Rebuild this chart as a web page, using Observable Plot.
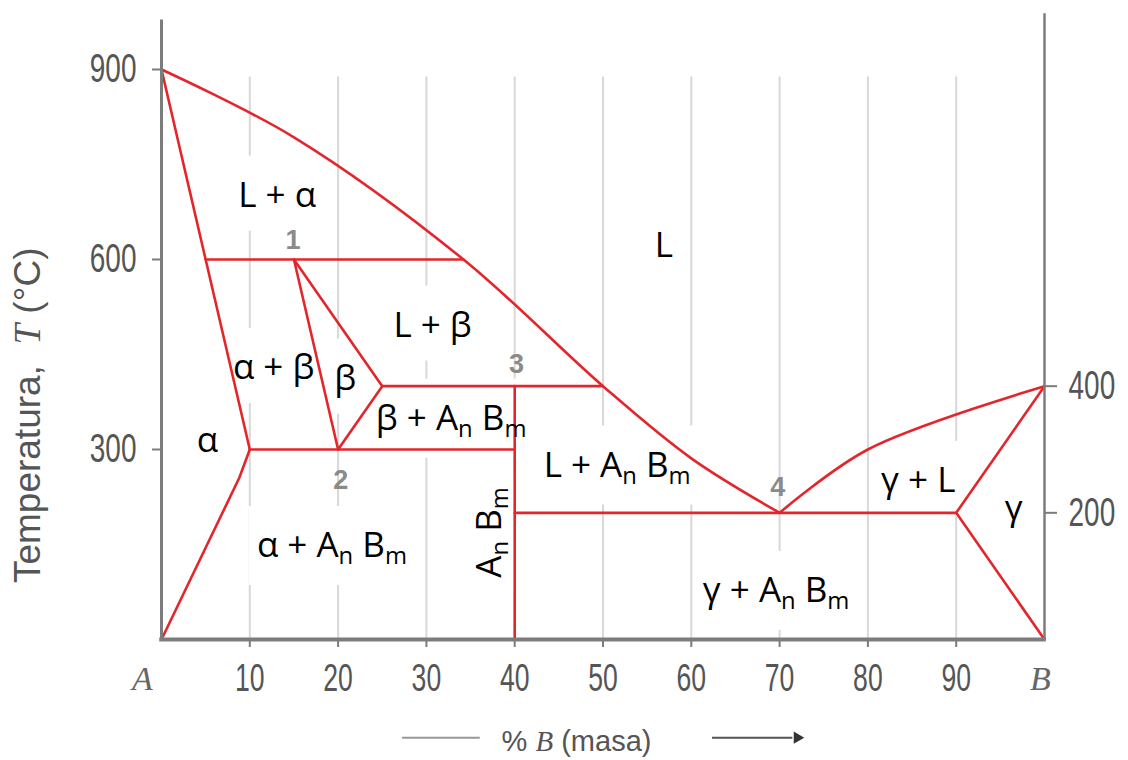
<!DOCTYPE html>
<html><head><meta charset="utf-8">
<script src="https://cdn.jsdelivr.net/npm/d3@7"></script>
<script src="https://cdn.jsdelivr.net/npm/@observablehq/plot@0.6"></script>
<style>body{margin:0;background:#fff} svg{display:block}</style>
</head><body><div id="chart"></div>
<script>
// ---- data (x = % B in mass, y = temperature °C) ----
const liquidusLeft  = [[0,900],[15,793],[34.2,600],[50,400],[60,286],[70,200]];
const liquidusRight = [[70,200],[80,300],[100,400]];
const alphaSolvus   = [[10,300],[8.8,255],[0,0]];
const alphaSolidus  = [[0,900],[5,600],[10,300]];
const betaLeft      = [[15,600],[20,300]];
const betaRight     = [[15,600],[25,400],[20,300]];
const compoundLine  = [[40,400],[40,0]];
const gammaBounds   = [[100,400],[90,200],[100,0]];
const isothermT     = [600, 400, 300, 200];
const isothermFrom  = [5, 25, 10, 40];
const isothermTo    = [34.2, 50, 40, 90];

const gridX       = [10,20,30,40,50,60,70,80,90];
const bottomTicks = [10,20,30,40,50,60,70,80,90];
const leftTicks   = [300,600,900];
const rightTicks  = [200,400];
const endA = "A", endB = "B";

const phaseText = ["L + α","L","L + β","α + β","β","β + A_n B_m","α","L + A_n B_m","γ + L","γ","α + A_n B_m","γ + A_n B_m"];
const phaseX    = [13.1, 56.9, 30.7, 12.7, 20.8, 32.8, 5.2, 51.6, 85.7, 96.5, 19.3, 69.6];
const phaseY    = [701, 622, 496, 429, 412, 349, 314, 275, 251, 207, 148, 77];
const compoundText = "A_n B_m";
const compoundX = 37.2, compoundY = 169;

const pointText = ["1","2","3","4"];
const pointX    = [14.9, 20.3, 40.2, 69.8];
const pointY    = [630, 251, 434, 240];

const yTitle = "Temperatura,  *T* (°C)";
const xTitle = "% *B* (masa)";

// ---- tables built from the arrays ----
const toRows = sets => Object.entries(sets).flatMap(([id, pts]) => pts.map(([x, y]) => ({id, x, y})));
const curvedRows = toRows({liquidusLeft, liquidusRight});
const straightRows = toRows({alphaSolvus, alphaSolidus, betaLeft, betaRight, compoundLine, gammaBounds});
isothermT.forEach((t, i) => {
  straightRows.push({id: "iso" + i, x: isothermFrom[i], y: t});
  straightRows.push({id: "iso" + i, x: isothermTo[i], y: t});
});
const phases = phaseText.map((t, i) => ({t, x: phaseX[i], y: phaseY[i]}));
const points = pointText.map((t, i) => ({t, x: pointX[i], y: pointY[i]}));

const RED = "#e3262c";
const AXIS = "#7c7c7c";
const TICKTXT = "#555";
const SANS = "'Liberation Sans',Arial,sans-serif";
const PHASEFONT = "'Open Sans','Noto Sans',sans-serif";

const chart = Plot.plot({
  width: 1128, height: 760,
  marginLeft: 161, marginRight: 84, marginTop: 69, marginBottom: 121,
  x: {domain: [0, 100], axis: null},
  y: {domain: [0, 900], axis: null},
  marks: [
    Plot.ruleX(gridX, {x: d => d, y1: 0, y2: 888, stroke: "#d8d8d8", strokeWidth: 2}),
    Plot.line(curvedRows, {x: "x", y: "y", z: "id", stroke: RED, strokeWidth: 2.6, curve: "catmull-rom"}),
    Plot.line(straightRows, {x: "x", y: "y", z: "id", stroke: RED, strokeWidth: 2.6, curve: "linear"}),
    Plot.ruleX([0], {y1: 0, y2: 978, stroke: AXIS, strokeWidth: 3}),
    Plot.ruleX([100], {y1: 0, y2: 988, stroke: AXIS, strokeWidth: 2.5}),
    Plot.ruleY([0], {x1: -0.2, x2: 100.2, stroke: AXIS, strokeWidth: 4}),
    Plot.axisY({anchor: "left", ticks: leftTicks, tickSize: 9, tickPadding: 16, stroke: AXIS, strokeWidth: 2, fill: TICKTXT, fontSize: 40, fontFamily: SANS, label: null}),
    Plot.axisY({anchor: "right", ticks: rightTicks, tickSize: 12, tickPadding: 12, stroke: AXIS, strokeWidth: 2, fill: TICKTXT, fontSize: 40, fontFamily: SANS, label: null}),
    Plot.axisX({anchor: "bottom", ticks: bottomTicks, tickSize: 8, tickPadding: 17, stroke: AXIS, strokeWidth: 2, fill: TICKTXT, fontSize: 38, fontFamily: SANS, label: null}),
    Plot.text([endA], {x: 0, y: 0, text: d => d, dy: 40, dx: -19, fontFamily: "'Liberation Serif',serif", fontStyle: "italic", fontSize: 34, fill: "#666"}),
    Plot.text([endB], {x: 100, y: 0, text: d => d, dy: 40, dx: -4, fontFamily: "'Liberation Serif',serif", fontStyle: "italic", fontSize: 34, fill: "#666"}),
    Plot.text(phases, {x: "x", y: "y", text: "t", fontFamily: PHASEFONT, fontSize: 35, fill: "#000"}),
    Plot.text([compoundText], {x: compoundX, y: compoundY, text: d => d, rotate: -90, fontFamily: PHASEFONT, fontSize: 35, fill: "#000"}),
    Plot.text(points, {x: "x", y: "y", text: "t", fontFamily: SANS, fontSize: 27, fontWeight: "bold", fill: "#8a8a8a"}),
    Plot.text([yTitle], {x: -15.1, y: 354, text: d => d, rotate: -90, fontFamily: SANS, fontSize: 37, fill: TICKTXT}),
    Plot.text([xTitle], {x: 47, y: -162, text: d => d, fontFamily: SANS, fontSize: 29, fill: TICKTXT}),
    Plot.ruleY([-155], {x1: 27.3, x2: 36.1, stroke: "#999", strokeWidth: 2}),
    Plot.ruleY([-155], {x1: 62.4, x2: 71.5, stroke: "#555", strokeWidth: 2}),
    Plot.dot([72.0], {x: d => d, y: -155, symbol: "triangle", rotate: 90, r: 4.5, fill: "#333", stroke: "none"})
  ]
});
document.getElementById("chart").appendChild(chart);

const NS = "http://www.w3.org/2000/svg";

// ---- narrow glyphs for tick labels (condensed look of the original) ----
function condense(el, sx) {
  const b = el.getBBox();
  const anchor = getComputedStyle(el).textAnchor;
  const ax = anchor === "end" ? b.x + b.width : anchor === "start" ? b.x : b.x + b.width / 2;
  const ay = b.y + b.height / 2;
  const prev = el.getAttribute("transform") || "";
  el.setAttribute("transform", `${prev} translate(${ax},${ay}) scale(${sx},1) translate(${-ax},${-ay})`);
}
chart.querySelectorAll("g[aria-label$='tick label'] text").forEach(el => condense(el, 0.7));

// ---- rich text: subscripts (_n) and italics (*T*) ----
chart.querySelectorAll("text").forEach(el => {
  const s = el.textContent;
  if (!/_\w|\*[^*]+\*/.test(s)) return;
  const fs = parseFloat(getComputedStyle(el).fontSize) || 33;
  const parts = s.split(/(_\w|\*[^*]+\*)/).filter(p => p !== "");
  el.textContent = "";
  let shifted = 0;
  parts.forEach(p => {
    const t = document.createElementNS(NS, "tspan");
    if (p[0] === "_") {
      t.textContent = p.slice(1);
      t.setAttribute("font-size", (fs * 0.68) + "px");
      t.setAttribute("dy", (fs * 0.2) + "");
      shifted = fs * 0.2;
    } else {
      if (p[0] === "*") {
        t.textContent = p.slice(1, -1);
        t.setAttribute("font-style", "italic");
        t.setAttribute("font-family", "'Liberation Serif',serif");
      } else t.textContent = p;
      if (shifted) { t.setAttribute("dy", (-shifted) + ""); shifted = 0; }
    }
    el.appendChild(t);
  });
});

// ---- white boxes behind the phase labels (breaking the grid lines) ----
const phaseGroups = [...chart.querySelectorAll("g[aria-label='text']")].filter(g => (g.getAttribute("font-family") || "").includes("Open Sans"));
const lineGroup = chart.querySelector("g[aria-label='line']");
const boxG = document.createElementNS(NS, "g");
lineGroup.parentNode.insertBefore(boxG, lineGroup);
phaseGroups.forEach(g => g.querySelectorAll("text").forEach(el => {
  const b = el.getBBox();
  const m = el.getCTM();
  const pts = [[b.x, b.y], [b.x + b.width, b.y], [b.x, b.y + b.height], [b.x + b.width, b.y + b.height]].map(([x, y]) => {
    const p = chart.createSVGPoint(); p.x = x; p.y = y; return p.matrixTransform(m);
  });
  const xs = pts.map(p => p.x), ys = pts.map(p => p.y);
  const r = document.createElementNS(NS, "rect");
  const padX = 8, padY = 14;
  r.setAttribute("x", Math.min(...xs) - padX);
  r.setAttribute("y", Math.min(...ys) - padY);
  r.setAttribute("width", Math.max(...xs) - Math.min(...xs) + 2 * padX);
  r.setAttribute("height", Math.max(...ys) - Math.min(...ys) + 2 * padY);
  r.setAttribute("fill", "#fff");
  boxG.appendChild(r);
}));
</script>
</body></html>
